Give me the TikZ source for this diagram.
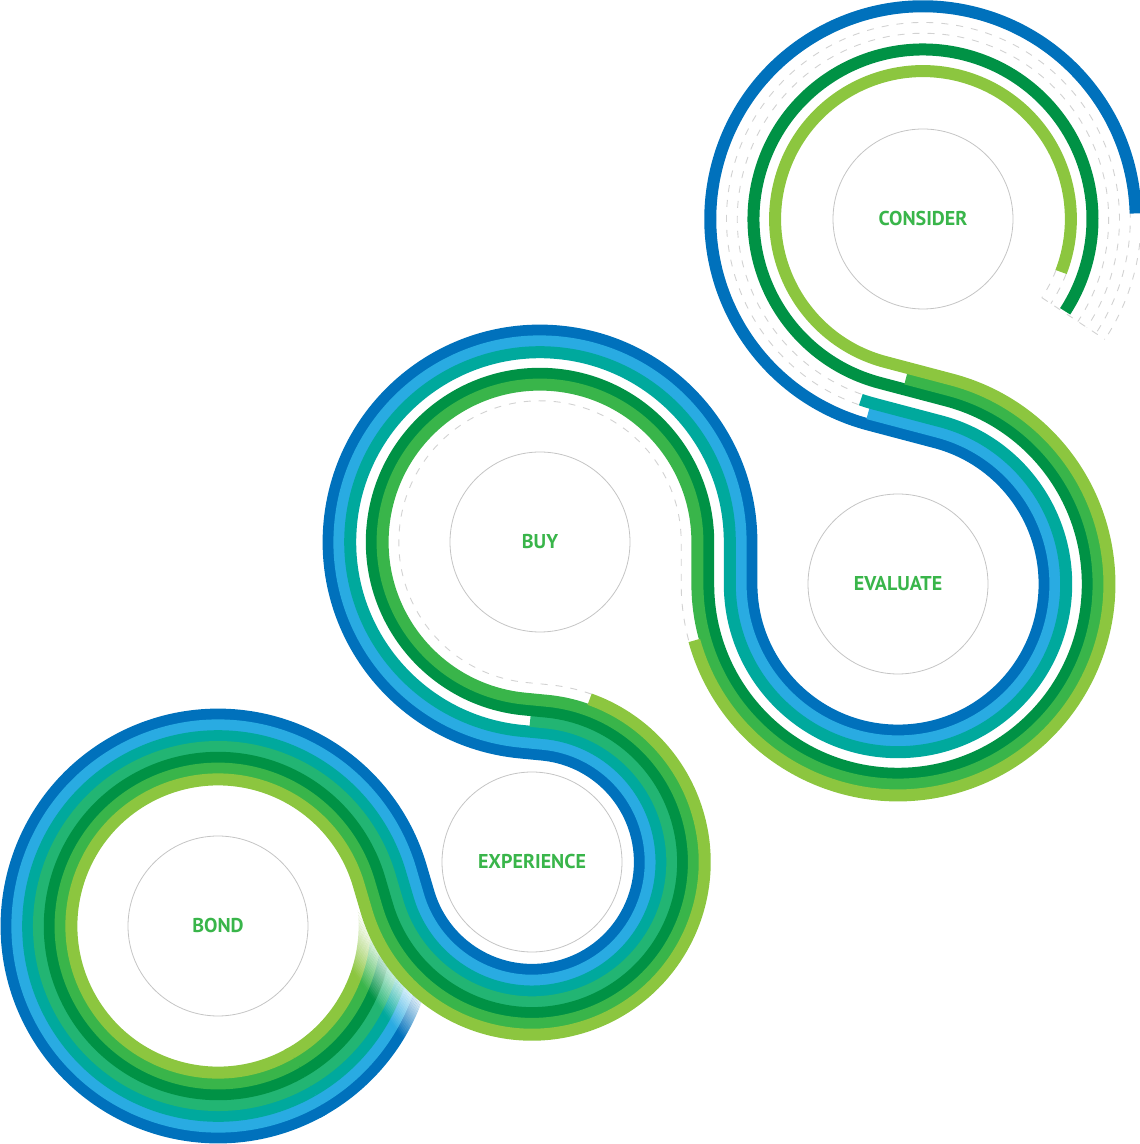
\documentclass[tikz,border=0pt]{standalone}
\usepackage{fontspec}
\setmainfont{PT Sans}
\usetikzlibrary{calc}
\definecolor{laneA}{HTML}{0071BC}
\definecolor{laneB}{HTML}{29ABE2}
\definecolor{laneC}{HTML}{00A99D}
\definecolor{laneD}{HTML}{22B573}
\definecolor{laneE}{HTML}{009245}
\definecolor{laneF}{HTML}{39B54A}
\definecolor{laneG}{HTML}{8CC63F}
\definecolor{ghostc}{HTML}{D2D2D2}
\definecolor{ringc}{HTML}{C4C4C4}
\definecolor{txtc}{HTML}{39B54A}
% lane radii in the five circles for offset d
\newcommand\setrad[1]{%
  \pgfmathsetmacro\rb{179+(#1)}%
  \pgfmathsetmacro\re{140.3-(#1)}%
  \pgfmathsetmacro\ru{179+(#1)}%
  \pgfmathsetmacro\rv{179-(#1)}%
  \pgfmathsetmacro\rc{180.3+(#1)}}
\newcommand\arcB[2]{($(cB)+(#1:\rb pt)$) arc[start angle=#1,end angle=#2,radius=\rb pt]}
\newcommand\arcE[2]{($(cE)+(#1:\re pt)$) arc[start angle=#1,end angle=#2,radius=\re pt]}
\newcommand\arcU[2]{($(cU)+(#1:\ru pt)$) arc[start angle=#1,end angle=#2,radius=\ru pt]}
\newcommand\arcV[2]{($(cV)+(#1:\rv pt)$) arc[start angle=#1,end angle=#2,radius=\rv pt]}
\newcommand\arcC[2]{($(cC)+(#1:\rc pt)$) arc[start angle=#1,end angle=#2,radius=\rc pt]}
\begin{document}
\begin{tikzpicture}[x=1pt,y=1pt,
  band/.style={line width=12pt},
  ghost/.style={draw=ghostc,line width=0.9pt,dash pattern=on 7pt off 8pt},
  stage/.style={circle,draw=ringc,line width=0.8pt,minimum size=180pt,inner sep=0pt,
    text=txtc,font=\bfseries\fontsize{20}{24}\selectfont}]
\useasboundingbox (0,0) rectangle (1140,1144);
\coordinate (cB) at (218,218);
\coordinate (cE) at (532,282);
\coordinate (cU) at (540,602);
\coordinate (cV) at (898,560);
\coordinate (cC) at (923,925);
% end points on straight runs
\coordinate (p4a) at ($(cE)+(84.52:140.3pt)$);
\coordinate (p4b) at ($(cU)+(264.52:179pt)$);
\coordinate (p6a) at ($(cV)+(75.21:200.6pt)$);
\coordinate (p6b) at ($(cC)+(255.21:158.7pt)$);

% ring start (under everything)
\foreach \d/\c in {32.4/laneA,21.6/laneB,10.8/laneC,0/laneD,-10.8/laneE,-21.6/laneF,-32.4/laneG}{%
  \setrad{\d}\draw[band,draw=\c] \arcB{10}{-62};}

% fade-in of the ring start
\coordinate (f1) at (338.1,259.1);
\coordinate (f2) at (443.9,116.9);
\fill[white] (f1) -- (f2) -- ($(f2)+(36.66:90pt)$) -- ($(f1)+(36.66:90pt)$) -- cycle;
\foreach \k in {0,...,19}{%
  \pgfmathsetmacro\sa{\k*2}\pgfmathsetmacro\sb{\k*2+2}\pgfmathsetmacro\op{1-(\k+0.5)/20}%
  \fill[white,fill opacity=\op] ($(f1)+(216.66:\sa pt)$) -- ($(f2)+(216.66:\sa pt)$)
     -- ($(f2)+(216.66:\sb pt)$) -- ($(f1)+(216.66:\sb pt)$) -- cycle;}

% dashed ghost lanes
\setrad{-37.8}\draw[ghost] \arcE{430.5}{444.52} -- \arcU{264.52}{0} -- \arcV{180}{195.5};
\setrad{37.8}\draw[ghost] \arcC{1.5}{-33.5};
\setrad{27.0}\draw[ghost] \arcC{255.21}{-33.5};
\setrad{16.2}\draw[ghost] \arcC{255.21}{-33.5};
\setrad{5.4}\draw[ghost] \arcC{255.21}{-33.5};
\setrad{-27.0}\draw[ghost] \arcC{-21}{-33.5};
\setrad{-37.8}\draw[ghost] \arcC{-21}{-33.5};
\draw[ghost] ($(cC)+(-33.5:142.5pt)$) coordinate (g1) -- ($(cC)+(-33.5:218.1pt)$) coordinate (g2);

% solid lanes
\setrad{32.4}\draw[band,draw=laneA] \arcB{-60}{-343.6} -- \arcE{196.4}{444.52} -- \arcU{264.52}{0} -- \arcV{180}{435.21} -- \arcC{255.21}{1.5};
\setrad{21.6}\draw[band,draw=laneB] \arcB{-60}{-343.6} -- \arcE{196.4}{444.52} -- \arcU{264.52}{0} -- \arcV{180}{435.21} -- \arcC{255.21}{254.2};
\setrad{10.8}\draw[band,draw=laneC] \arcB{-60}{-343.6} -- \arcE{196.4}{444.52} -- \arcU{264.52}{0} -- \arcV{180}{435.21} -- \arcC{255.21}{251};
\setrad{0}\draw[band,draw=laneD] \arcB{-60}{-343.6} -- \arcE{196.4}{444.52} -- ($(p4a)!0.68!(p4b)$);
\setrad{-10.8}\draw[band,draw=laneE] \arcB{-60}{-343.6} -- \arcE{196.4}{444.52} -- \arcU{264.52}{0} -- \arcV{180}{435.21} -- \arcC{255.21}{-33};
\setrad{-21.6}\draw[band,draw=laneF] \arcB{-60}{-343.6} -- \arcE{196.4}{444.52} -- \arcU{264.52}{0} -- \arcV{180}{435.21} -- ($(p6a)!0.65!(p6b)$);
\setrad{-32.4}\draw[band,draw=laneG] \arcB{-60}{-343.6} -- \arcE{196.4}{430.5};
\setrad{-32.4}\draw[band,draw=laneG] \arcV{195.5}{435.21} -- \arcC{255.21}{-21};

% stages
\node[stage] (consider) at (cC) {CONSIDER};
\node[stage] (evaluate) at (cV) {EVALUATE};
\node[stage] (buy) at (cU) {BUY};
\node[stage] (experience) at (cE) {EXPERIENCE};
\node[stage] (bond) at (cB) {BOND};
\end{tikzpicture}
\end{document}
